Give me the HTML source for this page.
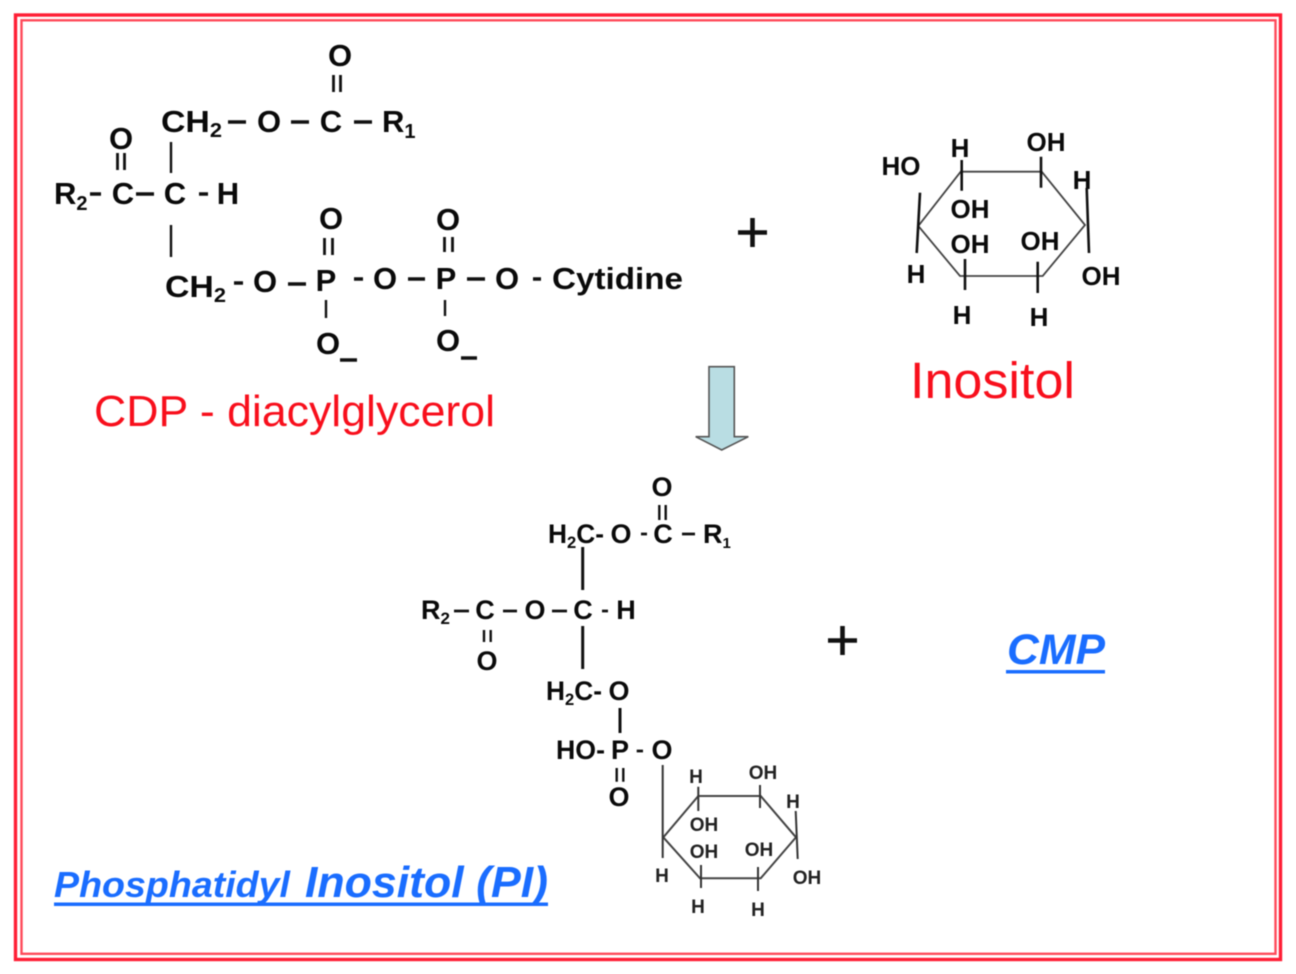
<!DOCTYPE html>
<html><head><meta charset="utf-8"><style>
html,body{margin:0;padding:0;background:#fff}
svg{display:block;filter:blur(0.55px)}
text{font-family:"Liberation Sans",sans-serif;fill:#0a0a0a}
.a{font-weight:bold;font-size:31px;text-anchor:middle}
.s{font-weight:bold;font-size:26px;text-anchor:middle}
.m{font-weight:bold;font-size:27px;text-anchor:middle}
.t{font-weight:bold;font-size:19px;text-anchor:middle;fill:#222}
.sub{font-size:20px}
.msub{font-size:17px}
.b{stroke:#111;stroke-width:2.4;fill:none}
.d{stroke:#111;stroke-width:3.6;fill:none}
.r{stroke:#444;stroke-width:1.8;fill:none}
.k{stroke:#111;stroke-width:2.8;fill:none}
.blue{fill:#1a6dff;font-weight:bold;font-style:italic}
</style></head><body>
<svg width="1296" height="974" viewBox="0 0 1296 974" xmlns="http://www.w3.org/2000/svg">
<rect width="1296" height="974" fill="#fff"/>
<rect x="15.5" y="15" width="1265" height="944.5" fill="none" stroke="#ff1f35" stroke-width="3.4"/>
<rect x="21.5" y="20.3" width="1254" height="933.5" fill="none" stroke="#ff4a5a" stroke-width="2.4"/>

<!-- CDP-DAG -->
<text class="a" x="340" y="66">O</text>
<text class="a" x="121" y="149">O</text>
<text class="a" x="161" y="132" style="text-anchor:start" textLength="61" lengthAdjust="spacingAndGlyphs">CH<tspan class="sub" dy="5">2</tspan></text>
<text class="a" x="269" y="132">O</text>
<text class="a" x="331" y="132">C</text>
<text class="a" x="382" y="132" style="text-anchor:start">R<tspan class="sub" dy="6">1</tspan></text>
<text class="a" x="54" y="204" style="text-anchor:start">R<tspan class="sub" dy="6">2</tspan></text>
<text class="a" x="123" y="204">C</text>
<text class="a" x="175" y="204">C</text>
<text class="a" x="228" y="204">H</text>
<text class="a" x="331" y="229">O</text>
<text class="a" x="448" y="230">O</text>
<text class="a" x="165" y="297" style="text-anchor:start" textLength="61" lengthAdjust="spacingAndGlyphs">CH<tspan class="sub" dy="5">2</tspan></text>
<text class="a" x="265" y="292">O</text>
<text class="a" x="326" y="291">P</text>
<text class="a" x="385" y="289">O</text>
<text class="a" x="446" y="289">P</text>
<text class="a" x="507" y="289">O</text>
<text class="a" x="552" y="289" style="text-anchor:start;font-size:31px" textLength="131" lengthAdjust="spacingAndGlyphs">Cytidine</text>
<text class="a" x="328" y="354">O</text>
<text class="a" x="448" y="351">O</text>
<path class="d" d="M228 122H246M291 122H309M354 122H372M90 194H101M136 194H154M199 194H208M234 283H243M288 284H306M354 279H363M408 279H425M467 279H485M533 279H541M340 360H357M461 358H477"/>
<path class="k" d="M333.500 75V92M340.500 75V92M117.500 153V170M124.500 153V170M324.500 238V255M332.500 238V255M444.500 237V252M452.500 237V252"/>
<path class="b" d="M171 142V173M171 225V257M326 300V318M445 300V316"/>

<!-- plus signs -->
<path d="M738 232.500H767M752.500 218V247M828 640.500H857M842.500 626V655" stroke="#111" stroke-width="4.6" fill="none"/>

<!-- Inositol -->
<path class="r" d="M960.700 171.700H1041.700L1085 225L1042.700 276H960L918.300 226Z"/>
<path class="d" style="stroke-width:2.6" d="M961.700 160V190.700M1041 156.700V187.700M1086.700 188L1089 253M920 192.700L916.700 253M965 259V290M1037.700 261.700V293"/>
<g>
<text class="s" x="901" y="175">HO</text>
<text class="s" x="960" y="157">H</text>
<text class="s" x="1046" y="151">OH</text>
<text class="s" x="1082" y="189">H</text>
<text class="s" x="970" y="218">OH</text>
<text class="s" x="970" y="253">OH</text>
<text class="s" x="1040" y="250">OH</text>
<text class="s" x="916" y="283">H</text>
<text class="s" x="1101" y="285">OH</text>
<text class="s" x="962" y="324">H</text>
<text class="s" x="1039" y="326">H</text>
</g>

<!-- labels -->
<text x="94" y="426" font-size="44" style="fill:#f80f1c" textLength="401" lengthAdjust="spacingAndGlyphs">CDP - diacylglycerol</text>
<text x="910" y="398" font-size="51" style="fill:#f80f1c" textLength="165" lengthAdjust="spacingAndGlyphs">Inositol</text>

<!-- arrow -->
<path d="M709 366.700H734.300V436.700H748.300L721.700 450L695.700 436.700H709Z" fill="#b9dde3" stroke="#555" stroke-width="1.6"/>

<!-- PI -->
<text class="m" x="662" y="496">O</text>
<text class="m" x="548" y="543" style="text-anchor:start" textLength="56" lengthAdjust="spacingAndGlyphs">H<tspan class="msub" dy="5">2</tspan><tspan dy="-5">C-</tspan></text>
<text class="m" x="621" y="543">O</text>
<text class="m" x="663" y="543">C</text>
<text class="m" x="703" y="543" style="text-anchor:start">R<tspan style="font-size:15px" dy="5">1</tspan></text>
<text class="m" x="421" y="619" style="text-anchor:start">R<tspan class="msub" dy="5">2</tspan></text>
<text class="m" x="485" y="619">C</text>
<text class="m" x="535" y="619">O</text>
<text class="m" x="583" y="619">C</text>
<text class="m" x="626" y="619">H</text>
<text class="m" x="487" y="670">O</text>
<text class="m" x="546" y="700" style="text-anchor:start" textLength="56" lengthAdjust="spacingAndGlyphs">H<tspan class="msub" dy="5">2</tspan><tspan dy="-5">C-</tspan></text>
<text class="m" x="619" y="700">O</text>
<text class="m" x="556" y="759" style="text-anchor:start" textLength="49" lengthAdjust="spacingAndGlyphs">HO-</text>
<text class="m" x="620" y="759">P</text>
<text class="m" x="662" y="759">O</text>
<text class="m" x="619" y="806">O</text>
<path class="k" d="M641 534H647M682 534H695M454 611H469M503 611H517M552 611H567M602 611H608M636.700 751H643" style="stroke-width:2.8"/>
<path class="k" d="M659.300 505V520M665.700 505V520M484 630V642M490.700 630V642M616.700 768V781.700M623.300 768V781.700" style="stroke-width:2.4"/>
<path class="k" d="M582.700 547V590M582.700 626V669M620 708V733" style="stroke-width:3"/>

<!-- small ring -->
<path class="r" style="stroke-width:2" d="M698.300 796H760.700L796 837.300L760.700 878.300H700L663.300 837.300Z"/>
<path class="k" style="stroke:#333;stroke-width:2" d="M662.700 765V858M698.300 786.700V811M760 785V808M795.700 811L797.700 859M701 865V888M758 867V891"/>
<g>
<text class="t" x="696" y="783">H</text>
<text class="t" x="763" y="779">OH</text>
<text class="t" x="793" y="808">H</text>
<text class="t" x="704" y="831">OH</text>
<text class="t" x="704" y="858">OH</text>
<text class="t" x="759" y="856">OH</text>
<text class="t" x="662" y="882">H</text>
<text class="t" x="807" y="884">OH</text>
<text class="t" x="698" y="913">H</text>
<text class="t" x="758" y="916">H</text>
</g>

<!-- blue labels -->
<text class="blue" x="1007" y="664" font-size="43" textLength="98" lengthAdjust="spacingAndGlyphs">CMP</text>
<rect x="1006" y="670" width="99" height="3.500" fill="#1a6dff"/>
<text class="blue" x="54" y="897" font-size="36" textLength="236" lengthAdjust="spacingAndGlyphs">Phosphatidyl</text>
<text class="blue" x="305" y="897" font-size="44" textLength="243" lengthAdjust="spacingAndGlyphs">Inositol (PI)</text>
<rect x="54" y="902.500" width="494" height="3.500" fill="#1a6dff"/>
</svg>
</body></html>
